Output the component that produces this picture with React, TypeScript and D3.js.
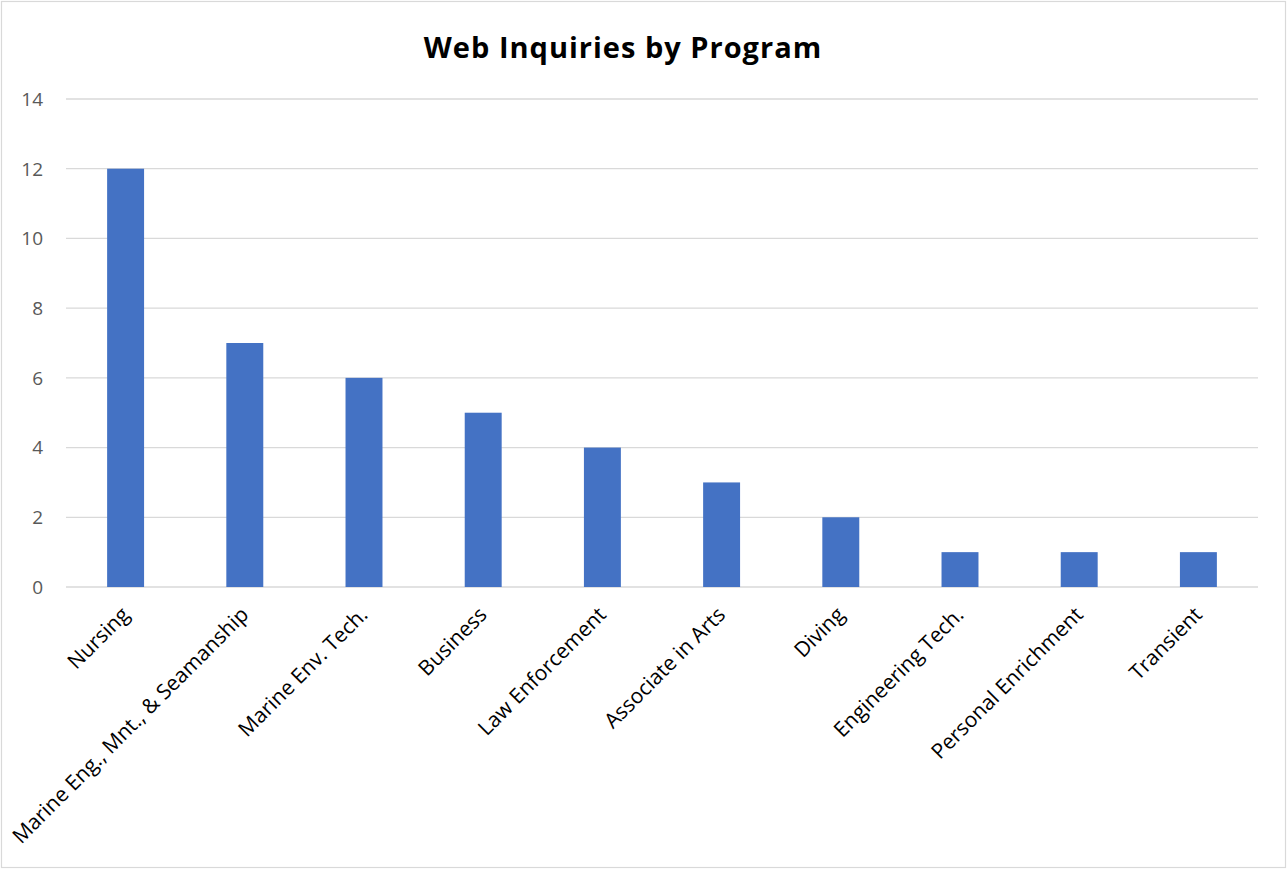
import React from "react";
import * as d3 from "d3";

const categories = [
  "Nursing",
  "Marine Eng., Mnt., & Seamanship",
  "Marine Env. Tech.",
  "Business",
  "Law Enforcement",
  "Associate in Arts",
  "Diving",
  "Engineering Tech.",
  "Personal Enrichment",
  "Transient",
];
const values = [12, 7, 6, 5, 4, 3, 2, 1, 1, 1];
const yTicks = [0, 2, 4, 6, 8, 10, 12, 14];
const title = "Web Inquiries by Program";

const W = 1287;
const H = 869;
const FONT = "'Open Sans', 'Noto Sans', sans-serif";

export default function App() {
  const x = d3.scaleBand<string>().domain(categories).range([66, 1258]).paddingInner(0.69).paddingOuter(0.345);
  const y = d3.scaleLinear().domain([0, 14]).range([587, 99]);
  return (
    <svg width={W} height={H} style={{ position: "absolute", left: 0, top: 0, background: "#fff" }}>
      <rect x={1.5} y={1.5} width={W - 3} height={H - 3} fill="#fff" stroke="#D9D9D9" strokeWidth={1.2} />
      <text x={623} y={58} textAnchor="middle" fontFamily={FONT} fontWeight="bold" fontSize={29} letterSpacing={1} fill="#000">
        {title}
      </text>
      {yTicks.map((t) => (
        <g key={t}>
          <line x1={66} x2={1258} y1={y(t)} y2={y(t)} stroke="#D9D9D9" strokeWidth={t === 0 ? 1.6 : 1.3} />
          <text x={43} y={y(t)} dy="0.36em" textAnchor="end" fontFamily={FONT} fontSize={19} fill="#595959">
            {t}
          </text>
        </g>
      ))}
      {categories.map((c, i) => (
        <rect key={c} x={x(c)} y={y(values[i])} width={x.bandwidth()} height={y(0) - y(values[i])} fill="#4472C4" />
      ))}
      {categories.map((c) => {
        const cx = (x(c) as number) + x.bandwidth() / 2 + 5;
        const cy = 616;
        return (
          <text
            key={c}
            transform={`translate(${cx},${cy}) rotate(-45)`}
            textAnchor="end"
            fontFamily={FONT}
            fontSize={21}
            fill="#000"
          >
            {c}
          </text>
        );
      })}
    </svg>
  );
}
